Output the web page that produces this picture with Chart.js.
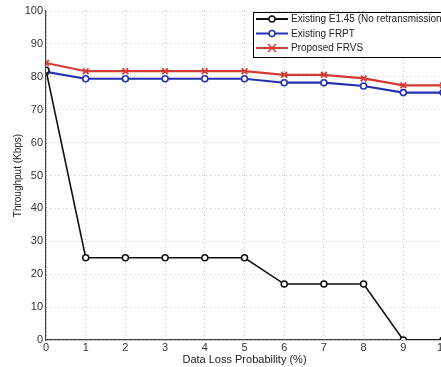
<!DOCTYPE html>
<html>
<head>
<meta charset="utf-8">
<script src="https://cdn.jsdelivr.net/npm/chart.js@4"></script>
<style>
  html, body { margin: 0; padding: 0; background: #fff; overflow: hidden; }
  #wrap { position: relative; width: 462px; height: 367px; }
</style>
</head>
<body>
<div id="wrap"><canvas id="grafico"></canvas></div>
<script>
const perdas = [0, 1, 2, 3, 4, 5, 6, 7, 8, 9, 10];
const existenteE145 = [82, 25, 25, 25, 25, 25, 17, 17, 17, 0, 0];
const existenteFRPT = [81.5, 79.4, 79.4, 79.4, 79.4, 79.4, 78.2, 78.2, 77.2, 75.2, 75.2];
const propostoFRVS = [84.2, 81.7, 81.7, 81.7, 81.7, 81.7, 80.6, 80.6, 79.5, 77.4, 77.4];
const ticksY = [0, 10, 20, 30, 40, 50, 60, 70, 80, 90, 100];

const fonte = '"Liberation Sans", Arial, sans-serif';

// legenda dentro da area do grafico, estilo MATLAB
const legendaInterna = {
    id: 'legendaInterna',
    afterDraw(chart) {
        const ctx = chart.ctx;
        const x0 = 253, y0 = 12, w = 220, h = 45;
        ctx.save();
        ctx.fillStyle = '#fff';
        ctx.fillRect(x0, y0, w, h);
        ctx.strokeStyle = '#000';
        ctx.lineWidth = 1;
        ctx.strokeRect(x0 + 0.5, y0 + 0.5, w, h);
        ctx.font = '10px ' + fonte;
        ctx.textBaseline = 'middle';
        chart.data.datasets.forEach((ds, i) => {
            const y = 19 + i * 14.5;
            ctx.strokeStyle = ds.borderColor;
            ctx.lineWidth = 2;
            ctx.beginPath();
            ctx.moveTo(256, y);
            ctx.lineTo(288, y);
            ctx.stroke();
            ctx.lineWidth = 1.5;
            if (ds.pointStyle === 'crossRot') {
                ctx.beginPath();
                ctx.moveTo(268, y - 4); ctx.lineTo(276, y + 4);
                ctx.moveTo(276, y - 4); ctx.lineTo(268, y + 4);
                ctx.stroke();
            } else {
                ctx.fillStyle = '#fff';
                ctx.beginPath();
                ctx.arc(272, y, 3, 0, Math.PI * 2);
                ctx.fill();
                ctx.stroke();
            }
            ctx.fillStyle = '#222';
            ctx.fillText(ds.label, 291, y + 0.5);
        });
        ctx.restore();
    }
};

new Chart(document.getElementById('grafico'), {
    type: 'line',
    data: {
        labels: perdas,
        datasets: [
            {
                label: 'Existing E1.45 (No retransmission)',
                data: existenteE145,
                borderColor: '#111',
                backgroundColor: '#fff',
                borderWidth: 1.6,
                pointStyle: 'circle',
                pointRadius: 3,
                pointBorderWidth: 1.5,
                tension: 0
            },
            {
                label: 'Existing FRPT',
                data: existenteFRPT,
                borderColor: '#2530b0',
                backgroundColor: '#fff',
                borderWidth: 2.2,
                pointStyle: 'circle',
                pointRadius: 3,
                pointBorderWidth: 1.6,
                tension: 0
            },
            {
                label: 'Proposed FRVS',
                data: propostoFRVS,
                borderColor: '#d63a35',
                backgroundColor: '#d63a35',
                borderWidth: 2.2,
                pointStyle: 'crossRot',
                pointRadius: 4,
                pointBorderWidth: 1.8,
                tension: 0
            }
        ]
    },
    options: {
        responsive: true,
        maintainAspectRatio: false,
        animation: false,
        layout: { padding: { top: 11, right: 19, left: 12, bottom: 0 } },
        plugins: {
            legend: { display: false },
            tooltip: { enabled: false }
        },
        scales: {
            x: {
                type: 'linear',
                min: 0,
                max: 10,
                afterFit(s) { s.height = 27; },
                afterBuildTicks(s) { s.ticks = perdas.map(v => ({ value: v })); },
                ticks: { color: '#333', font: { size: 11, family: fonte }, padding: 1, maxRotation: 0 },
                grid: { color: '#c4c4c4', drawTicks: false, lineWidth: 1 },
                border: { color: '#444', width: 1.2, dash: [1, 3] },
                title: { display: true, text: 'Data Loss Probability (%)', color: '#222', font: { size: 11, family: fonte }, padding: { top: 1, bottom: 0 } }
            },
            y: {
                min: 0,
                max: 100,
                afterFit(s) { s.width = 34; },
                afterBuildTicks(s) { s.ticks = ticksY.map(v => ({ value: v })); },
                ticks: { color: '#333', font: { size: 11, family: fonte }, padding: 3 },
                grid: { color: '#c4c4c4', drawTicks: false, lineWidth: 1 },
                border: { color: '#444', width: 1.2, dash: [1, 3] },
                title: { display: true, text: 'Throughput (Kbps)', color: '#222', font: { size: 10, family: fonte }, padding: { top: 0, bottom: 0 } }
            }
        }
    },
    plugins: [legendaInterna]
});
</script>
</body>
</html>
